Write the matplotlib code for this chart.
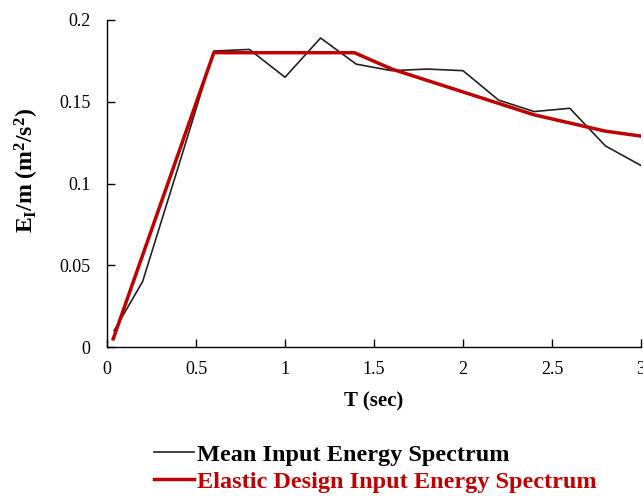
import matplotlib
matplotlib.use("Agg")
import matplotlib.pyplot as plt

# mean input energy spectrum (black)
t_mean = [0.04, 0.2, 0.4, 0.6, 0.8, 1.0, 1.2, 1.4, 1.6, 1.8, 2.0, 2.2, 2.4, 2.6, 2.8, 3.0]
e_mean = [0.010, 0.040, 0.110, 0.181, 0.182, 0.165, 0.189, 0.173, 0.169, 0.170, 0.169,
          0.151, 0.144, 0.146, 0.123, 0.111]

# elastic design input energy spectrum (red)
t_design = [0.035, 0.6, 1.39, 1.6, 1.8, 2.0, 2.2, 2.4, 2.6, 2.8, 3.0]
e_design = [0.005, 0.180, 0.180, 0.170, 0.163, 0.156, 0.149, 0.142, 0.137, 0.132, 0.129]

xticks = [0, 0.5, 1, 1.5, 2, 2.5, 3]
yticks = [0, 0.05, 0.1, 0.15, 0.2]

plt.rcParams["font.family"] = "serif"
plt.rcParams["font.serif"] = ["Liberation Serif", "DejaVu Serif"]
plt.rcParams["mathtext.fontset"] = "custom"
plt.rcParams["mathtext.rm"] = "Liberation Serif"
plt.rcParams["mathtext.bf"] = "Liberation Serif:bold"
plt.rcParams["mathtext.it"] = "Liberation Serif:italic"

red = "#C00000"

fig = plt.figure(figsize=(6.43, 4.96), dpi=100)
ax = fig.add_axes([107 / 643, 1 - 347 / 496, 534 / 643, 327 / 496])

ax.plot(t_mean, e_mean, color="#222222", lw=1.2, label="Mean Input Energy Spectrum")
ax.plot(t_design, e_design, color=red, lw=2.5, label="Elastic Design Input Energy Spectrum")

ax.set_xlim(0, 3)
ax.set_ylim(0, 0.2)
ax.set_xticks(xticks)
ax.set_xticklabels(["0", "0.5", "1", "1.5", "2", "2.5", "3"])
ax.set_yticks(yticks)
ax.set_yticklabels(["0", "0.05", "0.1", "0.15", "0.2"])
ax.tick_params(direction="in", length=6, width=1, labelsize=13, colors="black", pad=10)
ax.tick_params(axis="y", pad=12)
for s in ["top", "right"]:
    ax.spines[s].set_visible(False)
for s in ["left", "bottom"]:
    ax.spines[s].set_linewidth(1.0)

ax.set_xlabel("T (sec)", fontsize=15, fontweight="bold", labelpad=10)
ax.set_ylabel(r"$\mathbf{E_I/m\ (m^2/s^2)}$", fontsize=17)
ax.yaxis.set_label_coords(-0.123, 0.54)

leg = fig.legend(loc="upper left", bbox_to_anchor=(144 / 643, 1 - 434 / 496),
                 frameon=False, fontsize=17.5, handlelength=1.65, handletextpad=0.15,
                 labelspacing=0.2, borderaxespad=0)
for txt, c in zip(leg.get_texts(), ["black", red]):
    txt.set_color(c)
    txt.set_fontweight("bold")

fig.savefig("out.png", dpi=100)
